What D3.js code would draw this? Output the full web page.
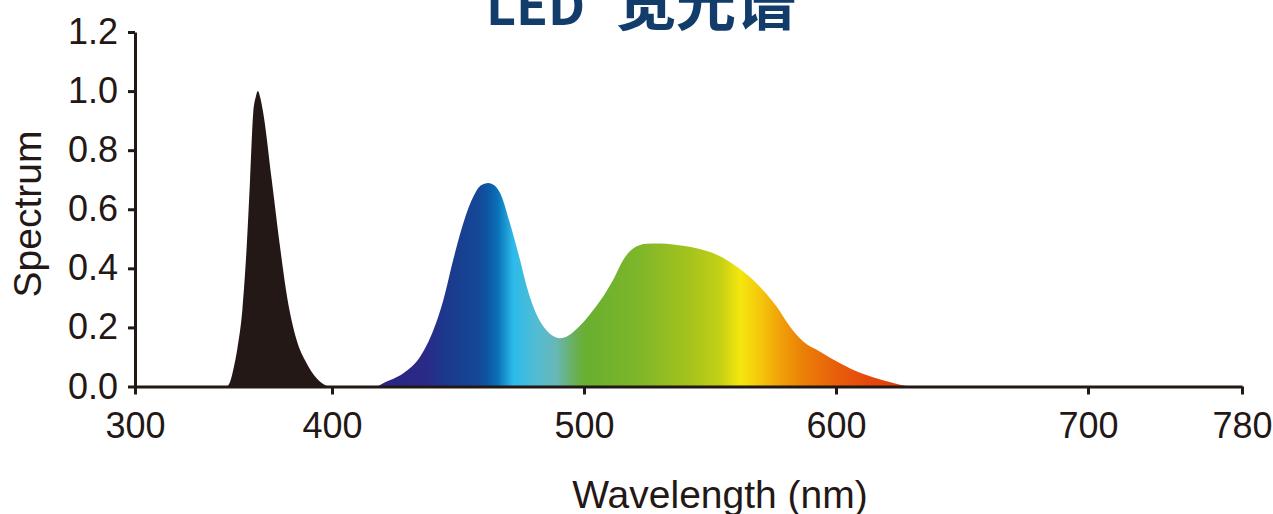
<!DOCTYPE html>
<html>
<head>
<meta charset="utf-8">
<script src="https://cdn.jsdelivr.net/npm/d3@7"></script>
<style>
  body { margin: 0; background: #ffffff; }
  text { font-family: "Liberation Sans", Arial, sans-serif; }
</style>
</head>
<body>
<div id="chart"></div>
<script>
// UV LED peak (black)
const uvWavelengths = [347, 348.5, 350, 352, 354.5, 356.7, 358.4, 360, 361.3, 362.4, 363.5, 365.1, 369.4, 373.6, 377.3, 382, 387.1, 392.2, 396.4, 398];
const uvValues      = [0, 0.02, 0.06, 0.13, 0.26, 0.474, 0.70, 0.926, 0.98, 1.0, 0.98, 0.926, 0.70, 0.474, 0.30, 0.158, 0.079, 0.028, 0.005, 0];

// white LED spectrum (coloured)
const visWavelengths = [418, 420.5, 428.3, 434.9, 440.2, 444.2, 448.1, 452.1, 456.1, 459, 462, 464.5, 466.7, 470.6, 474.6, 477.3, 479.9, 483.9, 487, 490.5, 493, 496.5, 503.7, 508, 511.6, 515.6, 519.6, 524.9, 530, 535.4, 540, 544.7, 550, 555.3, 563.2, 569.8, 576.5, 581.7, 587, 593.7, 601.6, 610.9, 619, 625, 629];
const visValues      = [0, 0.012, 0.045, 0.10, 0.19, 0.293, 0.429, 0.553, 0.643, 0.68, 0.689, 0.68, 0.655, 0.553, 0.429, 0.338, 0.27, 0.203, 0.175, 0.163, 0.168, 0.19, 0.259, 0.31, 0.361, 0.429, 0.468, 0.483, 0.484, 0.481, 0.476, 0.468, 0.455, 0.435, 0.389, 0.338, 0.27, 0.203, 0.152, 0.118, 0.079, 0.042, 0.02, 0.007, 0];

const xTicks = [300, 400, 500, 600, 700, 780];
const yTicks = [0, 0.2, 0.4, 0.6, 0.8, 1.0, 1.2];

const titleLatin = 'LED';
const titleCjk = '宽光谱';
const xTitle = 'Wavelength (nm)';
const yTitle = 'Spectrum';

// gradient colours along the wavelength axis
const gradWavelengths = [419, 437, 445, 458, 462, 466, 472, 481, 489, 497, 501, 521, 541, 554, 562, 570, 578, 587, 600, 613, 626];
const gradColors = ['#2b2582', '#2a2a87', '#1b388c', '#154897', '#0c58a3', '#0a73ba', '#2cbbea', '#52bcd3', '#68b7b6', '#6aaf4e', '#69af30', '#7db62a', '#a3c21d', '#c3d015', '#f5e60e', '#f5c70b', '#f0a008', '#eb8007', '#e75f0a', '#e4480b', '#e3400c'];

const width = 1273;
const height = 514;
const ink = '#231815';

const svg = d3.select('#chart')
    .append('svg')
    .attr('width', width)
    .attr('height', height);

// axis is stretched differently between 300-400, 400-700 and 700-780
const x = d3.scaleLinear()
    .domain([300, 400, 700, 780])
    .range([135, 332, 1088, 1242]);

const y = d3.scaleLinear()
    .domain([0, 1.2])
    .range([386.5, 32]);

const grad = svg.append('defs').append('linearGradient')
    .attr('id', 'spec')
    .attr('gradientUnits', 'userSpaceOnUse')
    .attr('x1', x(gradWavelengths[0])).attr('y1', 0)
    .attr('x2', x(gradWavelengths[gradWavelengths.length - 1])).attr('y2', 0);

const g0 = x(gradWavelengths[0]);
const gSpan = x(gradWavelengths[gradWavelengths.length - 1]) - g0;
grad.selectAll('stop')
    .data(gradWavelengths)
    .enter()
    .append('stop')
    .attr('offset', d => (x(d) - g0) / gSpan)
    .attr('stop-color', (d, i) => gradColors[i]);

const area = d3.area()
    .x(d => x(d[0]))
    .y0(y(0))
    .y1(d => y(d[1]))
    .curve(d3.curveMonotoneX);

svg.append('path')
    .datum(uvWavelengths.map((w, i) => [w, uvValues[i]]))
    .attr('d', area)
    .attr('fill', ink);

svg.append('path')
    .datum(visWavelengths.map((w, i) => [w, visValues[i]]))
    .attr('d', area)
    .attr('fill', 'url(#spec)');

// axes
const xAxis = svg.append('g')
    .attr('transform', `translate(0, ${y(0)})`)
    .call(d3.axisBottom(x)
        .tickValues(xTicks)
        .tickFormat(d3.format('d'))
        .tickSize(8)
        .tickSizeOuter(0)
        .tickPadding(18));

const yAxis = svg.append('g')
    .attr('transform', `translate(${x(300)}, 0)`)
    .call(d3.axisLeft(y)
        .tickValues(yTicks)
        .tickFormat(d3.format('.1f'))
        .tickSize(7)
        .tickSizeOuter(0)
        .tickPadding(10));

[xAxis, yAxis].forEach(a => {
    a.select('.domain').attr('stroke', ink).attr('stroke-width', 3);
    a.selectAll('.tick line').attr('stroke', ink).attr('stroke-width', 3);
    a.selectAll('.tick text')
        .attr('fill', ink)
        .style('font-family', '"Liberation Sans", Arial, sans-serif')
        .style('font-size', '36px');
});

svg.append('text')
    .attr('x', 720)
    .attr('y', 508)
    .attr('text-anchor', 'middle')
    .attr('fill', ink)
    .style('font-size', '39px')
    .text(xTitle);

svg.append('text')
    .attr('transform', 'translate(41, 214) rotate(-90)')
    .attr('text-anchor', 'middle')
    .attr('fill', ink)
    .style('font-size', '39px')
    .text(yTitle);

// title, cut off by the top edge
const title = svg.append('text')
    .attr('y', 25)
    .attr('fill', '#123d6b')
    .style('font-family', '"Noto Sans CJK SC", sans-serif')
    .style('font-weight', 'bold')
    .style('font-size', '60px');
title.append('tspan').attr('x', 486).style('font-size', '52px').text(titleLatin);
title.append('tspan').attr('x', 616).text(titleCjk);
</script>
</body>
</html>
